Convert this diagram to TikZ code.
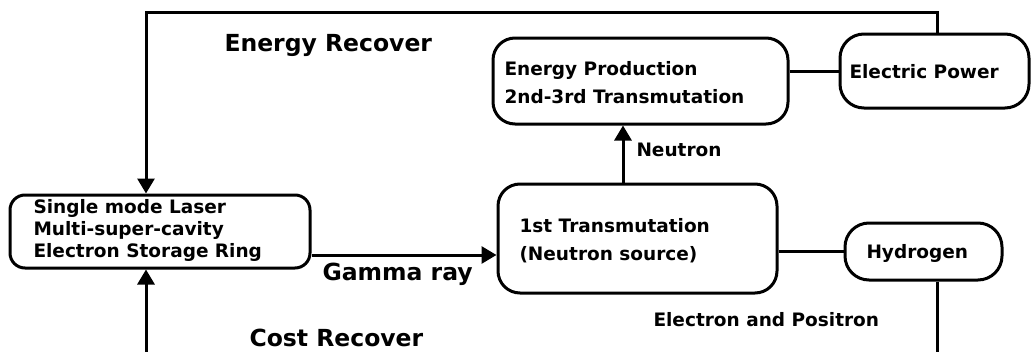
\documentclass[tikz,border=0pt]{standalone}
\usepackage{fontspec}
\setmainfont{DejaVu Sans}
\usetikzlibrary{arrows.meta}
\begin{document}
\begin{tikzpicture}[x=1pt,y=-1pt,line width=3pt,
  box/.style={draw, rounded corners=#1, inner sep=0pt},
  lbl/.style={anchor=base west, inner sep=0pt, font=\fontsize{18.5pt}{22pt}\selectfont\bfseries},
  big/.style={anchor=base west, inner sep=0pt, font=\fontsize{23.5pt}{28pt}\selectfont\bfseries},
  arr/.style={-{Triangle[width=17pt,length=15pt]}}]
\useasboundingbox (0,0) rectangle (1031,351);
% boxes
\node[box=15pt, minimum width=300pt, minimum height=73pt] (laser) at (160,231.5) {};
\node[box=22pt, minimum width=295pt, minimum height=86pt] (ep) at (640.5,81) {};
\node[box=24pt, minimum width=189pt, minimum height=74pt] (elec) at (934.5,71) {};
\node[box=22pt, minimum width=279pt, minimum height=109pt] (trans1) at (637.5,238.5) {};
\node[box=24pt, minimum width=157pt, minimum height=57pt] (hyd) at (923.5,251.5) {};
% texts
\node[big] (tER) at (223,51) {Energy Recover};
\node[big] (tCR) at (248,346.5) {Cost Recover};
\node[big] (tGR) at (321,280) {Gamma ray};
\node[lbl] (tN) at (635,156) {Neutron};
\node[lbl] (tEP1) at (503,75) {Energy Production};
\node[lbl] (tEP2) at (503,103) {2nd-3rd Transmutation};
\node[lbl] (tEl) at (848,78) {Electric Power};
\node[lbl] (tT1) at (518,232) {1st Transmutation};
\node[lbl] (tT2) at (518,260) {(Neutron source)};
\node[lbl] (tH) at (865,258) {Hydrogen};
\node[lbl] (tEaP) at (652,326) {Electron and Positron};
\node[lbl] (tL1) at (32,213) {Single mode Laser};
\node[lbl] (tL2) at (32,235) {Multi-super-cavity};
\node[lbl] (tL3) at (32,257) {Electron Storage Ring};
% connectors
\coordinate (tl) at (146,12);
\coordinate (tr) at (937,12);
\draw[arr] (tr |- elec.north) -- (tr) -- (tl) -- (tl |- laser.north);
\coordinate (bl) at (146,353);
\draw[arr] (bl) -- (bl |- laser.south);
\coordinate (nx) at (623,0);
\draw[arr] (nx |- trans1.north) -- (nx |- ep.south);
\draw (ep.east |- elec.west) -- (elec.west);
\coordinate (gy) at (0,255);
\draw[arr] (laser.east |- gy) -- (trans1.west |- gy);
\draw (trans1.east |- hyd.west) -- (hyd.west);
\coordinate (hb) at (937,353);
\draw (hb |- hyd.south) -- (hb);
\end{tikzpicture}
\end{document}
